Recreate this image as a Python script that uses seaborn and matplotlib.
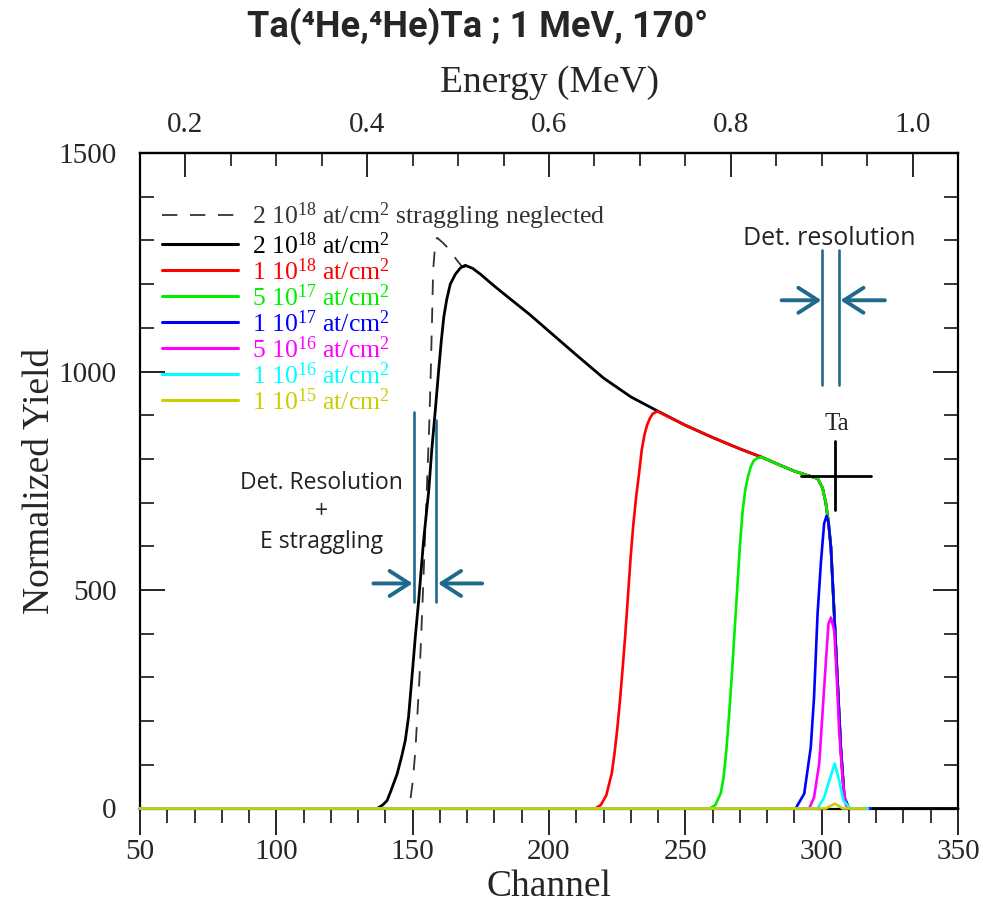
import matplotlib
matplotlib.use("Agg")
import matplotlib.pyplot as plt
import seaborn as sns
from matplotlib.ticker import MultipleLocator, FixedLocator, FormatStrFormatter

# ---- RBS spectra of Ta layers: channel vs normalized yield ----
ch_2e18 = [50, 137, 139, 140.6, 142, 144.3, 146, 147.3, 148.5, 150, 151, 152.2, 154, 155.9, 157,
           158.3, 159.5, 160.5, 161.4, 162.5, 163.8, 165.7, 167.5, 169.3, 172, 175, 178.5, 183, 188,
           193, 200, 210, 220, 230, 240, 250, 260, 270, 278, 285, 290, 295, 298.5, 300.3, 301.5,
           302.5, 303.4, 304.6, 305.8, 307, 308.3, 310, 350]
y_2e18 = [0, 0, 8, 18, 40, 79, 120, 156, 210, 320, 395, 476, 613, 728, 820,
          911, 1000, 1070, 1124, 1165, 1200, 1223, 1237, 1243, 1236, 1222, 1203, 1180, 1155,
          1130, 1092, 1038, 985, 942, 909, 877, 849, 823, 804, 785, 772, 762, 755, 734, 700,
          655, 597, 446, 293, 140, 25, 0, 0]

ch_2e18_nostrag = [50, 148.8, 149.1, 150, 151, 152.5, 153.8, 155, 156.1, 156.6, 157.1, 157.5, 158.3,
                   159, 161, 163.2, 166.3, 168.1, 172, 175, 178.5, 183, 188, 193, 200, 210, 220,
                   230, 240, 250, 260, 270, 278, 285, 290, 295, 298.5, 300.3, 301.5, 302.5, 303.4,
                   304.6, 305.8, 307, 308.3, 310, 350]
y_2e18_nostrag = [0, 0, 18, 60, 133, 300, 500, 700, 881, 990, 1117, 1231, 1295,
                  1306, 1295, 1281, 1254, 1240, 1236, 1222, 1203, 1180, 1155, 1130, 1092, 1038, 985,
                  942, 909, 877, 849, 823, 804, 785, 772, 762, 755, 734, 700, 655, 597,
                  446, 293, 140, 25, 0, 0]

ch_1e18 = [50, 217, 219, 221, 223, 224, 225, 226, 227, 228, 229, 230, 231, 232, 233, 234, 235,
           236, 237, 238, 239.7, 250, 260, 270, 278, 285, 290, 295, 298.5, 300.3, 301.5, 302.5,
           303.4, 304.6, 305.8, 307, 308.3, 310, 318]
y_1e18 = [0, 0, 8, 30, 80, 125, 180, 245, 320, 400, 490, 580, 655, 715, 765, 820, 855,
          878, 893, 903, 909, 877, 849, 823, 804, 785, 772, 762, 755, 734, 700, 655,
          597, 446, 293, 140, 25, 0, 0]

ch_5e17 = [50, 259, 261, 263, 264, 265, 266, 267, 268, 269, 270, 271, 272, 273, 274, 275, 276.4,
           278, 285, 290, 295, 298.5, 300.3, 301.5, 302.5, 303.4, 304.6, 305.8, 307, 308.3, 310, 318]
y_5e17 = [0, 0, 8, 35, 70, 130, 210, 300, 400, 500, 600, 680, 730, 760, 782, 795, 802,
          804, 785, 772, 762, 755, 734, 700, 655, 597, 446, 293, 140, 25, 0, 0]

ch_1e17 = [50, 290.5, 291.1, 293.6, 296, 297.2, 298.5, 299.7, 300.9, 301.8, 302.5, 303.4, 304.6,
           305.8, 307, 308.3, 310, 318]
y_1e17 = [0, 0, 7, 34, 140, 254, 446, 561, 652, 670, 655, 597, 446,
          293, 140, 25, 0, 0]

ch_5e16 = [50, 295.4, 297.2, 299.1, 300.3, 301.5, 302.5, 303.4, 304.6, 305.6, 306.4, 307.7, 308.9,
           310.5, 317]
y_5e16 = [0, 0, 25, 103, 217, 332, 423, 437, 407, 293, 178, 64, 7,
          0, 0]

ch_1e16 = [50, 298.5, 300.9, 302.8, 304.8, 306.4, 308, 310.5, 317]
y_1e16 = [0, 0, 25, 64, 103, 64, 18, 0, 0]

ch_1e15 = [50, 301.5, 303, 304.8, 306.5, 307.7, 316]
y_1e15 = [0, 0, 5, 11, 5, 0, 0]

labels = [
    r"2 10$^{18}$ at/cm$^{2}$ straggling neglected",
    r"2 10$^{18}$ at/cm$^{2}$",
    r"1 10$^{18}$ at/cm$^{2}$",
    r"5 10$^{17}$ at/cm$^{2}$",
    r"1 10$^{17}$ at/cm$^{2}$",
    r"5 10$^{16}$ at/cm$^{2}$",
    r"1 10$^{16}$ at/cm$^{2}$",
    r"1 10$^{15}$ at/cm$^{2}$",
]
colors = ["#333333", "#000000", "#ff0000", "#00ee00", "#0000ff", "#ff00ff", "#00ffff", "#cccc00"]

# energy calibration of the top axis (MeV per channel)
mev_per_channel = 0.003
energy_ticks = [0.2, 0.4, 0.6, 0.8, 1.0]

sns.set_theme(style="ticks")
plt.rcParams["font.family"] = ["Liberation Serif", "DejaVu Serif"]
plt.rcParams["mathtext.fontset"] = "custom"
plt.rcParams["mathtext.rm"] = "Liberation Serif"
plt.rcParams["mathtext.it"] = "Liberation Serif:italic"
plt.rcParams["mathtext.default"] = "regular"
plt.rcParams["axes.linewidth"] = 1.6

fig = plt.figure(figsize=(9.83, 9.07), dpi=100)
W, H = 983, 907
ax = fig.add_axes([140 / W, 1 - 808.5 / H, (958 - 140) / W, (808.5 - 153) / H])

series = [
    (ch_2e18_nostrag, y_2e18_nostrag, 1.3, (0, (8.5, 7))),
    (ch_2e18, y_2e18, 2.0, "-"),
    (ch_1e18, y_1e18, 1.9, "-"),
    (ch_5e17, y_5e17, 1.9, "-"),
    (ch_1e17, y_1e17, 1.9, "-"),
    (ch_5e16, y_5e16, 1.9, "-"),
    (ch_1e16, y_1e16, 1.9, "-"),
    (ch_1e15, y_1e15, 1.9, "-"),
]
for (xs, ys, lw, ls), lab, col in zip(series, labels, colors):
    sns.lineplot(x=xs, y=ys, ax=ax, color=col, lw=lw, linestyle=ls, label=lab,
                 estimator=None, sort=False, zorder=3, clip_on=False)

ax.set_xlim(50, 350)
ax.set_ylim(0, 1500)

# bottom axis: outward ticks
ax.xaxis.set_major_locator(MultipleLocator(50))
ax.xaxis.set_minor_locator(MultipleLocator(10))
ax.tick_params(axis="x", which="major", direction="out", length=19, width=1.4,
               labelsize=21, pad=3, bottom=True, top=False)
ax.tick_params(axis="x", which="minor", direction="out", length=10, width=1.3,
               bottom=True, top=False)
# left / right axes: inward ticks
ax.yaxis.set_major_locator(MultipleLocator(500))
ax.yaxis.set_minor_locator(MultipleLocator(100))
ax.tick_params(axis="y", which="major", direction="in", length=18, width=1.4,
               labelsize=21, pad=17, left=True, right=True)
ax.tick_params(axis="y", which="minor", direction="in", length=10, width=1.3,
               left=True, right=True)
for sp in ax.spines.values():
    sp.set_visible(True)
    sp.set_linewidth(1.6)
    sp.set_color("black")

ax.set_xlabel("Channel", fontsize=27, labelpad=3)
ax.set_ylabel("Normalized Yield", fontsize=27, labelpad=1)

# top axis: energy in MeV
secax = ax.secondary_xaxis("top", functions=(lambda c: c * mev_per_channel,
                                             lambda e: e / mev_per_channel))
secax.xaxis.set_major_locator(FixedLocator(energy_ticks))
secax.xaxis.set_minor_locator(FixedLocator([0.15 + 0.05 * i for i in range(18)]))
secax.xaxis.set_major_formatter(FormatStrFormatter("%.1f"))
secax.tick_params(which="major", direction="in", length=17, width=1.4, labelsize=21, pad=11)
secax.tick_params(which="minor", direction="in", length=9, width=1.3)
secax.spines["top"].set_linewidth(1.6)
secax.set_xlabel("Energy (MeV)", fontsize=27, labelpad=14)

# legend
leg = ax.legend(loc="upper left", bbox_to_anchor=(22 / 818, 1 - 48 / 655.5), frameon=False,
                fontsize=18.5, handlelength=2.95, handletextpad=0.55, labelspacing=-0.02,
                borderpad=0, borderaxespad=0, labelcolor="linecolor")
for h in leg.get_lines():
    h.set_linewidth(2.2)
leg.get_lines()[0].set_linewidth(1.3)

# detector resolution / straggling markers
mark = "#1f6a8c"
sans = ["Open Sans", "DejaVu Sans"]
arrow = dict(arrowstyle="->,head_length=0.7,head_width=0.45", lw=2.8, color=mark,
             shrinkA=0, shrinkB=0, mutation_scale=20)

ax.plot([150.6, 150.6], [473, 907], color=mark, lw=1.9, zorder=4)
ax.plot([158.7, 158.7], [473, 888], color=mark, lw=1.9, zorder=4)
ax.annotate("", xy=(150.0, 515), xytext=(135.6, 515), arrowprops=arrow, zorder=4)
ax.annotate("", xy=(159.3, 515), xytext=(175.5, 515), arrowprops=arrow, zorder=4)
ax.text(116.5, 678, "Det. Resolution\n+\nE straggling", ha="center", va="center",
        fontsize=16.5, family=sans, color="#222222", linespacing=1.3)

ax.plot([300.3, 300.3], [968, 1279], color=mark, lw=1.9, zorder=4)
ax.plot([306.4, 306.4], [968, 1279], color=mark, lw=1.9, zorder=4)
ax.annotate("", xy=(299.9, 1163), xytext=(285.3, 1163), arrowprops=arrow, zorder=4)
ax.annotate("", xy=(306.9, 1163), xytext=(323.2, 1163), arrowprops=arrow, zorder=4)
ax.text(302.6, 1305, "Det. resolution", ha="center", va="center",
        fontsize=18, family=sans, color="#222222")

# Ta surface edge marker
ax.plot([292.4, 318.1], [760, 760], color="black", lw=2.0, zorder=4)
ax.plot([304.9, 304.9], [683, 840.5], color="black", lw=2.0, zorder=4)
ax.text(305.6, 880, "Ta", ha="center", va="center", fontsize=18)

fig.text(478 / W, 1 - 26 / H, "Ta(\u2074He,\u2074He)Ta ; 1 MeV, 170\u00b0", ha="center",
         va="center", fontsize=26, fontweight="bold", family=["Roboto", "DejaVu Sans"])

fig.savefig("out.png", dpi=100)
